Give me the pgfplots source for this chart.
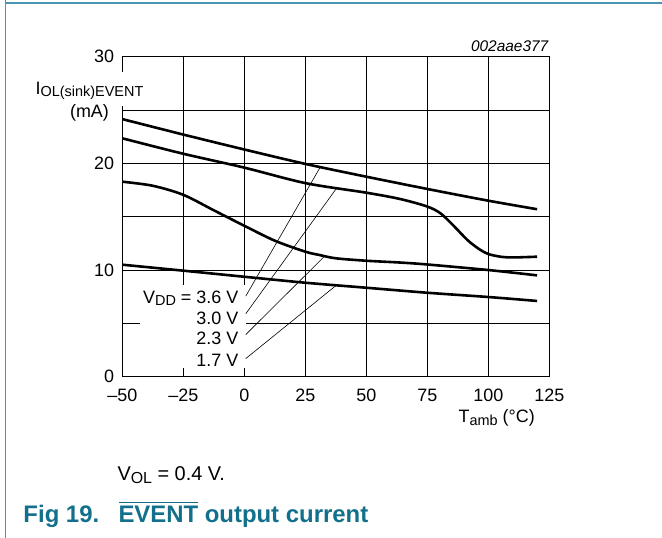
\documentclass[border=0pt]{standalone}
\usepackage{fontspec}
\setmainfont{Liberation Sans}
\usepackage{pgfplots}
\pgfplotsset{compat=1.18}
\definecolor{nxpframe}{RGB}{70,150,180}
\definecolor{nxpcap}{RGB}{18,112,140}
\newcommand{\chartfont}{\fontsize{18}{21}\selectfont}
\newcommand{\sub}[2][14.5]{\raisebox{-2.5bp}{\fontsize{#1}{#1}\selectfont #2}}
\newcommand{\ovl}[1]{\setbox0\hbox{#1}\rlap{\raisebox{\dimexpr\ht0+3bp\relax}{\rule{\wd0}{1.4bp}}}\box0\relax}

\begin{document}
\begin{tikzpicture}
\begin{axis}[
  at={(122.3bp,161.3bp)}, anchor=south west,
  scale only axis, width=427bp, height=320bp,
  xmin=-50, xmax=125, ymin=0, ymax=30,
  xtick={-50,-25,0,25,50,75,100,125},
  xticklabels={\textendash 50,\textendash 25,0,25,50,75,100,125},
  ytick={0,10,20,30}, yticklabels={0,10,20,30},
  minor ytick={5,15,25},
  grid=both,
  major grid style={black, line width=0.9bp},
  minor grid style={black, line width=0.9bp},
  axis line style={black, line width=0.9bp},
  tick style={black, line width=0.9bp},
  tick align=inside,
  major tick length=8bp, minor tick length=8bp,
  tick label style={font=\chartfont},
  xticklabel style={yshift=-9bp},
  yticklabel style={xshift=-4.8bp},
  /pgf/number format/assume math mode=true,
  clip=false,
]
\fill[white] (axis cs:-42.7,0.8) rectangle (axis cs:0.7,8.6);

% V_DD = 3.6 V
\addplot[black, line width=2.6bp, smooth] coordinates {
(-50,24.15) (-25,22.7) (0,21.3) (25,19.95) (50,18.75) (75,17.6) (100,16.5) (120,15.7)};
% V_DD = 3.0 V
\addplot[black, line width=2.6bp, smooth, tension=0.5] coordinates {
(-50,22.35) (-25,20.9) (0,19.6) (25,18.15) (50,17.25) (64,16.65) (75,15.95) (80.5,15.3) (86,14.1) (91.5,12.8) (96.3,11.95) (100,11.5) (105,11.25) (110,11.18) (120,11.25)};
% V_DD = 2.3 V
\addplot[black, line width=2.6bp, smooth, tension=0.5] coordinates {
(-50,18.28) (-37.5,17.9) (-25,17.05) (-12.5,15.6) (0,14.15) (12.5,12.75) (25,11.72) (31,11.4) (37.5,11.1) (50,10.87) (64,10.7) (75,10.52) (100,10.0) (120,9.5)};
% V_DD = 1.7 V
\addplot[black, line width=2.6bp, smooth] coordinates {
(-50,10.5) (-25,9.94) (0,9.37) (25,8.81) (50,8.34) (75,7.87) (100,7.47) (120,7.1)};

\draw[line width=0.6bp] (axis cs:0.6,7.55) -- (axis cs:31,19.6);
\draw[line width=0.6bp] (axis cs:0.6,5.9) -- (axis cs:37.6,17.6);
\draw[line width=0.6bp] (axis cs:0.6,3.95) -- (axis cs:32.7,11.25);
\draw[line width=0.6bp] (axis cs:0.6,1.7) -- (axis cs:37.6,8.55);

\node[anchor=base east, font=\chartfont, inner sep=0pt] at (axis cs:-2.4,6.88) {V\sub{DD} = 3.6 V};
\node[anchor=base east, font=\chartfont, inner sep=0pt] at (axis cs:-2.4,4.91) {3.0 V};
\node[anchor=base east, font=\chartfont, inner sep=0pt] at (axis cs:-2.4,3.06) {2.3 V};
\node[anchor=base east, font=\chartfont, inner sep=0pt] at (axis cs:-2.4,0.94) {1.7 V};
\end{axis}

\begin{scope}[x=1bp, y=-1bp, yshift=538bp]
\useasboundingbox (0,0) rectangle (662,538);
\draw[nxpframe, line width=1.5bp] (5.5,0) -- (5.5,538);
\draw[nxpframe, line width=1.2bp] (5.5,3) -- (662,3);
\fill[white] (119,72.5) rectangle (126,106);
\node[anchor=base, font=\chartfont, inner sep=0pt] at (89.5,94.3) {I\sub{OL(sink)EVENT}};
\node[anchor=base, font=\chartfont, inner sep=0pt] at (89.5,117.3) {(mA)};
\node[anchor=base east, font=\chartfont, inner sep=0pt] at (535,422.7) {T\sub{amb} (°C)};
\node[anchor=base east, font=\fontsize{15.5}{18}\selectfont\itshape, inner sep=0pt] at (548.5,51.7) {002aae377};
\node[anchor=base west, font=\fontsize{20}{24}\selectfont, inner sep=0pt] at (117.3,480.7) {V\sub[16]{OL} = 0.4 V.};
\node[anchor=base west, font=\fontsize{24}{28}\selectfont\bfseries, text=nxpcap, inner sep=0pt] at (23.3,522.7) {Fig 19.};
\node[anchor=base west, font=\fontsize{24}{28}\selectfont\bfseries, text=nxpcap, inner sep=0pt] at (118.3,522.7) {\ovl{EVENT} output current};
\end{scope}
\end{tikzpicture}
\end{document}
